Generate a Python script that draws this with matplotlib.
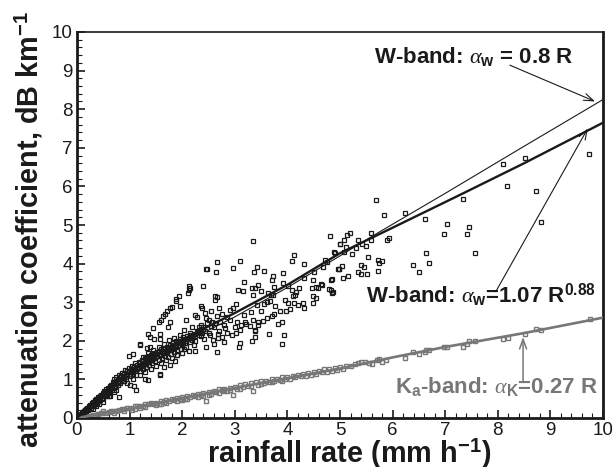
import matplotlib
matplotlib.use('Agg')
import matplotlib.pyplot as plt
from matplotlib.ticker import MultipleLocator

plt.rcParams['font.family'] = ['Liberation Sans', 'DejaVu Sans']
plt.rcParams['mathtext.fontset'] = 'custom'
plt.rcParams['mathtext.rm'] = 'Liberation Sans:bold'
plt.rcParams['mathtext.bf'] = 'Liberation Sans:bold'
plt.rcParams['mathtext.it'] = 'Liberation Serif:italic'

GREY = '#777777'
DARK = '#1a1a1a'

# fit lines
thin_r = [0, 1, 2, 3, 4, 5, 5.6, 7, 8.5, 10]
thin_a = [0, 1.05, 1.93, 2.62, 3.38, 4.2, 4.7, 5.82, 7.04, 8.25]
fit_r = [0, 0.5, 1, 2, 3, 4, 5, 6, 7.34, 8.5, 10]
fit_a = [0, 0.66, 1.18, 2.03, 2.72, 3.45, 4.27, 4.93, 5.82, 6.6, 7.65]
ka_r = [0, 1, 2, 3, 4, 5, 6, 7, 8.5, 10]
ka_a = [0, 0.24, 0.52, 0.78, 1.03, 1.28, 1.57, 1.84, 2.2, 2.6]

# W-band points
w_upper = [(2.12, 3.42), (2.14, 3.36), (2.12, 3.31), (2.11, 3.23), (1.94, 3.16), (1.89, 3.08), (1.89, 3.02),
           (1.96, 2.89), (1.80, 2.87), (1.77, 2.86), (1.72, 2.76), (1.68, 2.7), (1.63, 2.63), (1.6, 2.54),
           (1.55, 2.48), (1.77, 2.48), (1.73, 2.35), (1.44, 2.33), (1.35, 2.18), (1.38, 2.11), (1.57, 2.17),
           (1.58, 2.04), (1.2, 1.91), (1.19, 1.9), (1.47, 2.04), (1.39, 1.85), (1.34, 1.82), (0.98, 1.61),
           (1.07, 1.67), (1.39, 1.49), (2.47, 3.86), (2.46, 3.87), (2.64, 3.79), (2.66, 4.03), (3.1, 4.07),
           (2.96, 3.89), (3.34, 4.58), (3.42, 3.9), (3.37, 3.77), (3.56, 3.81), (3.18, 3.53), (3.73, 3.69),
           (3.7, 3.58), (3.92, 3.75), (4.08, 4.08), (4.13, 4.22), (4.32, 3.99), (4.81, 4.72), (5.0, 4.5)]
w_mid = [(2.39, 3.41), (2.63, 3.15), (2.66, 3.13), (2.63, 3.06), (2.36, 2.91), (2.37, 2.84), (2.7, 2.84),
         (2.55, 2.76), (2.43, 2.72), (2.25, 2.67), (2.28, 2.61), (2.08, 2.53), (2.04, 2.28), (2.18, 2.35),
         (2.31, 2.37), (2.47, 2.46), (2.5, 2.54), (2.56, 2.5), (2.66, 2.63), (2.72, 2.5), (2.91, 2.8),
         (2.97, 2.84), (3.02, 2.96), (3.07, 3.32), (3.16, 3.3), (3.32, 3.36), (3.38, 3.38), (3.45, 3.45),
         (3.5, 3.29), (3.35, 3.19), (3.64, 3.23), (3.68, 3.19), (3.72, 3.19), (3.75, 3.39), (3.92, 3.49),
         (4.02, 3.42), (4.09, 3.32), (4.15, 3.19), (4.23, 3.36), (4.16, 3.27), (4.11, 3.15), (3.96, 3.06),
         (4.02, 2.97), (4.13, 2.97), (4.2, 2.93), (4.3, 2.97), (4.32, 2.84), (4.05, 2.82), (3.97, 2.78),
         (3.86, 2.78), (3.77, 2.91), (3.66, 3.02), (3.75, 2.7), (3.7, 2.63), (3.61, 2.59), (3.53, 2.52),
         (3.45, 2.5), (3.45, 2.41), (3.83, 2.44), (3.9, 2.48), (3.94, 2.16), (3.89, 1.91), (3.65, 2.17),
         (3.39, 2.27), (3.38, 2.26), (3.39, 2.11), (3.32, 2.0), (3.1, 1.94), (3.08, 1.85), (2.66, 1.72),
         (2.8, 1.97), (2.69, 2.07), (2.6, 1.92), (2.45, 1.83), (2.25, 1.74), (2.12, 1.74), (1.9, 1.64),
         (1.87, 1.47), (1.77, 1.38), (1.65, 1.31), (1.58, 1.12), (1.57, 1.14), (1.35, 0.99), (1.3, 1.02),
         (1.13, 0.73), (1.09, 0.82), (0.79, 0.54), (0.57, 0.56), (0.6, 0.57),
         (4.49, 2.97), (4.49, 3.15), (4.54, 3.1), (4.47, 3.38), (4.54, 3.39), (4.32, 3.62), (4.49, 3.58),
         (4.51, 3.79), (4.68, 3.92), (4.72, 4.09), (4.75, 4.05), (4.89, 4.29), (4.97, 3.86), (4.99, 3.85),
         (4.83, 3.58), (4.65, 3.45), (4.63, 3.47), (4.84, 3.25), (4.8, 3.34), (4.58, 3.38),
         (2.3, 2.22), (2.4, 2.3), (2.5, 2.2), (2.6, 2.35), (2.7, 2.25), (2.8, 2.42), (2.85, 2.2), (2.9, 2.55),
         (3.0, 2.35), (3.05, 2.5), (3.12, 2.42), (3.18, 2.68), (3.22, 2.44), (3.3, 2.75), (3.35, 2.53),
         (3.42, 2.92), (3.5, 2.78), (3.55, 2.95), (3.62, 3.0), (2.35, 2.12), (2.42, 2.05), (2.52, 2.15),
         (2.58, 2.02), (2.68, 2.18), (2.75, 2.1), (2.82, 2.32), (2.95, 2.15), (3.03, 2.2), (3.1, 2.28),
         (3.2, 2.5), (3.28, 2.38), (2.2, 2.1), (2.25, 2.0), (2.15, 2.2), (2.1, 2.05), (2.05, 1.95),
         (2.22, 1.9), (2.35, 2.42), (2.45, 2.58), (2.55, 2.38), (2.62, 2.46), (2.85, 2.62), (2.75, 2.7)]
w_dense = [(0.02, 0.03), (0.04, 0.05), (0.05, 0.08), (0.07, 0.1), (0.08, 0.07), (0.1, 0.14), (0.11, 0.1), (0.13, 0.18),
           (0.14, 0.12), (0.16, 0.22), (0.17, 0.17), (0.19, 0.27), (0.2, 0.2), (0.22, 0.3), (0.23, 0.24), (0.25, 0.34),
           (0.26, 0.27), (0.28, 0.38), (0.29, 0.3), (0.31, 0.42), (0.32, 0.33), (0.34, 0.46), (0.35, 0.37), (0.37, 0.5),
           (0.38, 0.4), (0.4, 0.54), (0.41, 0.44), (0.43, 0.58), (0.44, 0.47), (0.46, 0.6), (0.47, 0.5), (0.49, 0.66),
           (0.5, 0.52), (0.52, 0.7), (0.53, 0.58), (0.55, 0.75), (0.56, 0.6), (0.58, 0.78), (0.6, 0.65), (0.62, 0.83),
           (0.63, 0.7), (0.65, 0.86), (0.67, 0.73), (0.69, 0.87), (0.7, 1.02), (0.72, 0.8), (0.74, 0.95), (0.75, 1.07),
           (0.77, 0.85), (0.79, 1.0), (0.8, 1.12), (0.82, 0.9), (0.84, 1.05), (0.86, 1.17), (0.88, 0.97), (0.9, 1.1),
           (0.92, 1.25), (0.94, 1.02), (0.96, 1.15), (0.98, 1.3), (1.0, 1.08), (1.02, 1.2), (1.04, 1.34), (1.06, 1.0),
           (1.07, 1.14), (1.09, 1.26), (1.11, 1.42), (1.13, 1.12), (1.15, 1.3), (1.17, 1.45), (1.19, 1.22), (1.21, 1.35),
           (1.23, 1.5), (1.25, 1.28), (1.27, 1.4), (1.29, 1.55), (1.31, 1.32), (1.33, 1.46), (1.35, 1.6), (1.37, 1.38),
           (1.39, 1.52), (1.41, 1.64), (1.43, 1.43), (1.45, 1.56), (1.47, 1.68), (1.49, 1.47), (1.51, 1.6), (1.53, 1.72),
           (1.55, 1.5), (1.57, 1.63), (1.59, 1.78), (1.61, 1.55), (1.63, 1.68), (1.65, 1.82), (1.67, 1.6), (1.69, 1.72),
           (1.71, 1.85), (1.73, 1.58), (1.75, 1.75), (1.77, 1.9), (1.79, 1.66), (1.81, 1.8), (1.83, 1.95), (1.85, 1.7),
           (1.87, 1.84), (1.89, 2.0), (1.91, 1.75), (1.93, 1.88), (1.95, 2.05), (1.97, 1.8), (1.99, 1.92), (2.01, 2.1),
           (2.03, 1.78), (0.9, 0.95), (0.95, 0.9), (1.0, 0.85), (0.7, 0.68), (0.75, 0.72), (0.62, 0.56), (0.5, 0.42),
           (0.42, 0.36), (0.36, 0.3), (0.3, 0.24), (1.2, 1.12), (1.3, 1.2), (1.4, 1.28), (1.5, 1.35), (1.6, 1.42),
           (1.7, 1.5), (1.8, 1.55), (1.9, 1.62), (1.25, 1.58), (1.35, 1.68), (1.45, 1.75), (1.55, 1.85), (1.65, 1.92),
           (1.75, 2.02), (1.85, 2.08), (1.95, 2.15), (2.0, 1.68), (2.08, 1.85), (2.14, 1.98)]
w_band = [(0.06, 0.06), (0.09, 0.11), (0.12, 0.15), (0.15, 0.18), (0.18, 0.23), (0.21, 0.26), (0.24, 0.3), (0.27, 0.34),
          (0.3, 0.37), (0.33, 0.41), (0.36, 0.45), (0.39, 0.48), (0.42, 0.52), (0.45, 0.56), (0.48, 0.6), (0.51, 0.63),
          (0.54, 0.67), (0.57, 0.7), (0.6, 0.74), (0.63, 0.78), (0.66, 0.81), (0.69, 0.94), (0.72, 0.9), (0.75, 0.97),
          (0.78, 0.94), (0.81, 1.02), (0.84, 1.1), (0.87, 1.04), (0.9, 1.17), (0.93, 1.12), (0.96, 1.22), (0.99, 1.18),
          (1.02, 1.27), (1.05, 1.22), (1.08, 1.33), (1.11, 1.28), (1.14, 1.37), (1.17, 1.33), (1.2, 1.42), (1.23, 1.38),
          (1.26, 1.47), (1.29, 1.42), (1.32, 1.52), (1.35, 1.47), (1.38, 1.58), (1.41, 1.52), (1.44, 1.62), (1.47, 1.56),
          (1.5, 1.67), (1.53, 1.6), (1.56, 1.7), (1.59, 1.64), (1.62, 1.74), (1.65, 1.68), (1.68, 1.8), (1.71, 1.74),
          (1.74, 1.82), (1.77, 1.76), (1.8, 1.87), (1.83, 1.82), (1.86, 1.9), (1.89, 1.84), (1.92, 1.96), (1.95, 1.9),
          (1.98, 2.0), (2.01, 1.94), (2.04, 2.05), (2.07, 2.0), (2.1, 2.12), (2.13, 2.06), (2.16, 2.14), (2.19, 2.03),
          (2.22, 2.18), (2.25, 2.12), (2.28, 2.26), (2.31, 2.15), (2.34, 2.28), (2.37, 2.2), (2.4, 2.36), (2.43, 2.25)]
w_far = [(9.74, 6.85), (8.82, 5.08), (8.72, 5.88), (8.52, 6.73), (8.09, 6.59), (8.18, 6.02), (7.34, 5.67), (5.68, 5.64),
         (5.84, 5.27), (6.24, 5.30), (6.62, 5.16), (7.03, 5.03), (6.98, 4.76), (7.45, 4.94), (7.42, 4.77), (5.93, 4.66),
         (5.89, 4.6), (5.59, 4.78), (5.59, 4.61), (5.19, 4.78), (5.14, 4.75), (5.07, 4.62), (5.0, 4.52), (5.35, 4.6),
         (5.42, 4.52), (7.57, 4.28), (6.64, 4.28), (6.7, 4.02), (6.38, 3.97), (6.51, 3.79), (5.72, 4.09), (5.8, 4.07),
         (5.75, 4.02), (5.4, 3.96), (5.45, 3.91), (5.35, 3.79), (5.4, 3.72), (5.51, 3.74), (5.72, 3.82), (4.98, 3.85),
         (5.03, 3.93), (5.15, 3.68), (5.06, 3.62), (4.85, 3.6), (4.82, 3.32), (4.87, 3.27), (4.9, 4.28), (5.07, 4.31),
         (5.23, 4.25), (5.53, 4.18), (5.3, 4.4), (5.12, 4.42), (5.5, 4.45)]

# Ka-band points
ka_points = [(0.05, 0.01), (0.1, 0.03), (0.15, 0.04), (0.2, 0.05), (0.25, 0.06), (0.3, 0.08), (0.35, 0.09), (0.4, 0.1),
             (0.45, 0.12), (0.5, 0.13), (0.55, 0.14), (0.6, 0.16), (0.65, 0.17), (0.7, 0.19), (0.75, 0.19), (0.8, 0.2),
             (0.85, 0.23), (0.9, 0.23), (0.95, 0.26), (1.0, 0.26), (1.05, 0.22), (1.1, 0.3), (1.15, 0.3), (1.2, 0.32),
             (1.25, 0.3), (1.3, 0.36), (1.35, 0.35), (1.4, 0.38), (1.45, 0.37), (1.5, 0.4), (1.55, 0.36), (1.6, 0.44),
             (1.65, 0.42), (1.7, 0.46), (1.75, 0.45), (1.8, 0.49), (1.85, 0.47), (1.9, 0.51), (1.95, 0.48), (2.0, 0.54),
             (2.05, 0.5), (2.1, 0.57), (2.15, 0.55), (2.2, 0.6), (2.25, 0.56), (2.3, 0.62), (2.35, 0.59), (2.4, 0.65),
             (2.45, 0.45), (2.5, 0.68), (2.55, 0.62), (2.6, 0.71), (2.65, 0.67), (2.7, 0.74), (2.75, 0.72), (2.8, 0.76),
             (2.85, 0.7), (2.9, 0.79), (2.97, 0.6), (3.0, 0.8), (3.05, 0.76), (3.1, 0.85), (3.15, 0.8), (3.2, 0.87),
             (3.25, 0.82), (3.3, 0.9), (3.34, 0.69), (3.4, 0.92), (3.45, 0.86), (3.5, 0.95), (3.55, 0.9), (3.6, 0.97),
             (3.65, 0.92), (3.7, 1.0), (3.75, 0.96), (3.8, 1.02), (3.85, 0.98), (3.9, 1.05), (3.95, 1.0), (4.0, 1.07),
             (4.05, 1.02), (4.1, 1.1), (4.15, 1.05), (4.2, 1.12), (4.25, 1.08), (4.3, 1.15), (4.35, 1.1), (4.4, 1.16),
             (4.45, 1.12), (4.5, 1.2), (4.55, 1.15), (4.6, 1.22), (4.65, 1.18), (4.7, 1.26), (4.75, 1.2), (4.8, 1.27),
             (4.85, 1.22), (4.9, 1.3), (4.95, 1.24), (5.0, 1.32), (5.06, 1.28), (5.12, 1.36), (5.2, 1.34), (5.28, 1.4),
             (5.35, 1.42), (5.4, 1.46), (5.48, 1.44), (5.55, 1.42), (5.6, 1.4), (5.7, 1.5), (5.75, 1.52), (5.8, 1.44),
             (5.88, 1.5), (6.24, 1.55), (6.38, 1.7), (6.51, 1.65), (6.62, 1.7), (6.64, 1.77), (6.7, 1.75), (6.98, 1.83),
             (7.03, 1.83), (7.34, 1.85), (7.42, 1.93), (7.45, 2.0), (7.57, 2.0), (8.09, 2.05), (8.19, 2.06), (8.52, 2.17),
             (8.72, 2.31), (8.82, 2.28), (9.75, 2.56),
             (0.5, 0.17), (0.7, 0.14), (0.9, 0.18), (1.1, 0.24), (1.3, 0.29), (1.5, 0.33), (1.7, 0.4), (1.9, 0.44),
             (2.1, 0.49), (2.3, 0.54), (2.5, 0.6), (2.7, 0.66), (2.9, 0.72), (1.2, 0.25), (1.6, 0.37), (2.0, 0.47),
             (2.4, 0.57), (2.8, 0.69), (3.1, 0.74), (3.3, 0.83), (3.5, 0.87), (3.7, 0.94), (3.9, 0.97)]

w_points = w_upper + w_mid + w_dense + w_band + w_far
w_r, w_a = zip(*w_points)
ka_pr, ka_pa = zip(*ka_points)

fig = plt.figure(figsize=(6.14, 4.67), dpi=100)
ax = fig.add_axes([77 / 614, 1 - 418 / 467, 526 / 614, 386 / 467])

ax.plot(ka_pr, ka_pa, ls='none', marker='s', ms=2.2, mfc='none', mec=GREY, mew=1.0, zorder=2)
ax.plot(w_r, w_a, ls='none', marker='s', ms=2.2, mfc='none', mec=DARK, mew=0.9, zorder=3)
ax.plot(ka_r, ka_a, color=GREY, lw=1.9, zorder=4)
ax.plot(thin_r, thin_a, color=DARK, lw=0.8, zorder=4)
ax.plot(fit_r, fit_a, color=DARK, lw=1.7, zorder=4)

ax.set_xlim(0, 10)
ax.set_ylim(0, 10)
ax.xaxis.set_major_locator(MultipleLocator(1))
ax.yaxis.set_major_locator(MultipleLocator(1))
ax.xaxis.set_minor_locator(MultipleLocator(0.2))
ax.yaxis.set_minor_locator(MultipleLocator(0.2))
ax.tick_params(which='major', direction='in', length=6, width=1.2, labelsize=13.5, pad=3, colors=DARK)
ax.tick_params(which='minor', direction='in', length=3.6, width=0.8, colors=DARK)
for s in ax.spines.values():
    s.set_linewidth(2)
    s.set_color(DARK)
ax.spines['top'].set_linewidth(1.2)

ax.set_xlabel(r'rainfall rate (mm h$^{\mathbf{-1}}$)', fontsize=20.8, fontweight='bold', color=DARK)
ax.xaxis.label.set_verticalalignment('baseline')
ax.xaxis.set_label_coords(0.517, -0.1166, transform=ax.transAxes)
ax.set_ylabel(r'attenuation coefficient, dB km$^{\mathbf{-1}}$', fontsize=20.8, fontweight='bold', color=DARK)
ax.yaxis.set_label_coords(-0.06, 0.489, transform=ax.transAxes)

ax.text(5.64, 9.2, r'W-band: $\alpha_{\mathbf{w}}$ = 0.8 R', fontsize=16, fontweight='bold', color=DARK, zorder=6)
ax.text(5.5, 3.0, r'W-band: $\alpha_{\mathbf{w}}$=1.07 R$^{\mathbf{0.88}}$', fontsize=16, fontweight='bold', color=DARK, zorder=6)
ax.text(6.04, 0.65, r'K$_{\mathbf{a}}$-band: $\alpha_{\mathbf{K}}$=0.27 R', fontsize=16, fontweight='bold', color=GREY, zorder=6)

arrow = dict(arrowstyle='->,head_length=0.7,head_width=0.25', lw=0.8, color=DARK, shrinkA=0, shrinkB=0)
ax.annotate('', xy=(9.85, 8.2), xytext=(8.23, 9.14), arrowprops=arrow, zorder=5)
ax.annotate('', xy=(9.71, 7.5), xytext=(7.96, 3.27), arrowprops=arrow, zorder=5)
arrow_grey = dict(arrow, color=GREY, lw=1.1)
ax.annotate('', xy=(8.48, 2.1), xytext=(8.48, 0.94), arrowprops=arrow_grey, zorder=5)

fig.savefig('out.png', dpi=100)
